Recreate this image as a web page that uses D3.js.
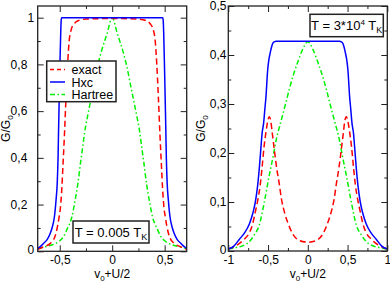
<!DOCTYPE html>
<html>
<head>
<meta charset="utf-8">
<script src="https://cdn.jsdelivr.net/npm/d3@7"></script>
<style>
  body { margin: 0; background: #fff; }
  svg { display: block; font-family: "Liberation Sans", Arial, sans-serif; }
  .axis path { display: none; }
  .axis line { stroke: #222; stroke-width: 1; }
  .axis text { font-size: 12px; fill: #000; }
</style>
</head>
<body>
<svg id="chart" width="390" height="284"></svg>
<script>
// ---- data: [v0+U/2, G/G0] ----

// left panel, T = 0.005 T_K
var leftExact = [[-0.71,0.008],[-0.65,0.02],[-0.59,0.034],[-0.55,0.058],[-0.536,0.077],[-0.52,0.11],
  [-0.505,0.15],[-0.495,0.18],[-0.48,0.27],[-0.47,0.36],[-0.455,0.5],[-0.44,0.66],[-0.425,0.8],
  [-0.41,0.9],[-0.39,0.95],[-0.36,0.975],[-0.32,0.988],[-0.25,0.994],[-0.1,0.996],[0,0.996],
  [0.1,0.996],[0.25,0.994],[0.32,0.988],[0.36,0.975],[0.39,0.95],[0.41,0.9],[0.425,0.8],
  [0.44,0.66],[0.455,0.5],[0.47,0.36],[0.48,0.27],[0.495,0.18],[0.505,0.15],[0.52,0.11],
  [0.536,0.077],[0.55,0.058],[0.59,0.034],[0.65,0.02],[0.71,0.008]];
var leftHxc = [[-0.71,0.013],[-0.68,0.022],[-0.654,0.034],[-0.62,0.05],[-0.59,0.077],[-0.57,0.105],
  [-0.55,0.15],[-0.535,0.22],[-0.524,0.29],[-0.516,0.4],[-0.511,0.52],[-0.505,0.65],[-0.498,0.8],
  [-0.491,0.93],[-0.486,0.99],[-0.482,1.0],[0.482,1.0],[0.486,0.99],[0.491,0.93],[0.498,0.8],
  [0.505,0.65],[0.511,0.52],[0.516,0.4],[0.524,0.29],[0.535,0.22],[0.55,0.15],[0.57,0.105],
  [0.59,0.077],[0.62,0.05],[0.654,0.034],[0.68,0.022],[0.71,0.013]];
var leftHartree = [[-0.71,0.012],[-0.65,0.018],[-0.6,0.024],[-0.536,0.034],[-0.5,0.045],[-0.464,0.063],
  [-0.43,0.095],[-0.384,0.148],[-0.355,0.215],[-0.327,0.29],[-0.3,0.385],[-0.28,0.45],[-0.264,0.505],
  [-0.225,0.6],[-0.18,0.7],[-0.14,0.79],[-0.1,0.86],[-0.05,0.93],[0,1.0],[0.05,0.93],[0.1,0.86],
  [0.14,0.79],[0.18,0.7],[0.225,0.6],[0.264,0.505],[0.28,0.45],[0.3,0.385],[0.327,0.29],
  [0.355,0.215],[0.384,0.148],[0.43,0.095],[0.464,0.063],[0.5,0.045],[0.536,0.034],[0.6,0.024],
  [0.65,0.018],[0.71,0.012]];

// right panel, T = 3*10^4 T_K
var rightExact = [[-1,0.004],[-0.9,0.011],[-0.8,0.024],[-0.736,0.037],[-0.694,0.055],[-0.66,0.08],
  [-0.63,0.103],[-0.6,0.133],[-0.576,0.169],[-0.55,0.213],[-0.526,0.243],[-0.505,0.264],
  [-0.485,0.274],[-0.465,0.265],[-0.45,0.245],[-0.42,0.205],[-0.39,0.168],[-0.36,0.138],
  [-0.33,0.105],[-0.29,0.077],[-0.25,0.057],[-0.19,0.035],[-0.1,0.021],[0,0.018],
  [0.1,0.021],[0.19,0.035],[0.25,0.057],[0.29,0.077],[0.33,0.105],[0.36,0.138],[0.39,0.168],
  [0.42,0.205],[0.45,0.245],[0.465,0.265],[0.485,0.274],[0.505,0.264],[0.526,0.243],
  [0.55,0.213],[0.576,0.169],[0.6,0.133],[0.63,0.103],[0.66,0.08],[0.694,0.055],[0.736,0.037],
  [0.8,0.024],[0.9,0.011],[1,0.004]];
var rightHxc = [[-1,0.004],[-0.93,0.01],[-0.86,0.024],[-0.8,0.036],[-0.735,0.055],[-0.69,0.078],
  [-0.66,0.1],[-0.63,0.135],[-0.61,0.169],[-0.59,0.21],[-0.575,0.24],[-0.555,0.262],[-0.54,0.29],
  [-0.526,0.315],[-0.505,0.369],[-0.49,0.39],[-0.475,0.403],[-0.455,0.417],[-0.44,0.424],
  [-0.42,0.427],[-0.4,0.428],[0.4,0.428],[0.42,0.427],[0.44,0.424],[0.455,0.417],[0.475,0.403],
  [0.49,0.39],[0.505,0.369],[0.526,0.315],[0.54,0.29],[0.555,0.262],[0.575,0.24],[0.59,0.21],
  [0.61,0.169],[0.63,0.135],[0.66,0.1],[0.69,0.078],[0.735,0.055],[0.8,0.036],[0.86,0.024],
  [0.93,0.01],[1,0.004]];
var rightHartree = [[-1,0.004],[-0.9,0.007],[-0.8,0.012],[-0.736,0.019],[-0.673,0.033],[-0.61,0.053],
  [-0.547,0.1],[-0.484,0.155],[-0.44,0.19],[-0.4,0.225],[-0.337,0.265],[-0.28,0.3],[-0.233,0.33],
  [-0.18,0.36],[-0.127,0.385],[-0.06,0.413],[0,0.427],[0.06,0.413],[0.127,0.385],[0.18,0.36],
  [0.233,0.33],[0.28,0.3],[0.337,0.265],[0.4,0.225],[0.44,0.19],[0.484,0.155],[0.547,0.1],
  [0.61,0.053],[0.673,0.033],[0.736,0.019],[0.8,0.012],[0.9,0.007],[1,0.004]];

var leftXTicks = [-0.5, 0, 0.5];
var leftXMinor = [-0.25, 0.25];
var leftYTicks = [0, 0.2, 0.4, 0.6, 0.8, 1];
var leftYMinor = [0.1, 0.3, 0.5, 0.7, 0.9];
var rightXTicks = [-1, -0.5, 0, 0.5, 1];
var rightXMinor = [-0.75, -0.25, 0.25, 0.75];
var rightYTicks = [0, 0.1, 0.2, 0.3, 0.4, 0.5];
var rightYMinor = [0.05, 0.15, 0.25, 0.35, 0.45];

var legendNames = ['exact', 'Hxc', 'Hartree'];

// ---- styles ----
var styles = {
  exact:   { color: '#ff0000', dash: '6,3.5' },
  Hxc:     { color: '#0000ff', dash: null },
  Hartree: { color: '#00f000', dash: '5,2.5,1.5,2.5' }
};

var svg = d3.select('#chart');

function commaFmt(d) {
  return String(+d.toFixed(2)).replace('.', ',');
}

function drawPanel(opt) {
  var x = d3.scaleLinear().domain(opt.xDomain).range([opt.left, opt.right]);
  var y = d3.scaleLinear().domain(opt.yDomain).range([opt.bottom, opt.top]);
  var g = svg.append('g');

  svg.append('clipPath').attr('id', opt.id + 'clip')
    .append('rect')
    .attr('x', opt.left).attr('y', opt.top)
    .attr('width', opt.right - opt.left).attr('height', opt.bottom - opt.top);

  // minor ticks
  g.append('g').attr('class', 'axis').attr('transform', 'translate(0,' + opt.bottom + ')')
    .call(d3.axisBottom(x).tickValues(opt.xMinor).tickSize(-3).tickFormat(''));
  g.append('g').attr('class', 'axis').attr('transform', 'translate(0,' + opt.top + ')')
    .call(d3.axisTop(x).tickValues(opt.xMinor).tickSize(-3).tickFormat(''));
  g.append('g').attr('class', 'axis').attr('transform', 'translate(' + opt.left + ',0)')
    .call(d3.axisLeft(y).tickValues(opt.yMinor).tickSize(-3).tickFormat(''));
  g.append('g').attr('class', 'axis').attr('transform', 'translate(' + opt.right + ',0)')
    .call(d3.axisRight(y).tickValues(opt.yMinor).tickSize(-3).tickFormat(''));

  // major ticks
  g.append('g').attr('class', 'axis').attr('transform', 'translate(0,' + opt.bottom + ')')
    .call(d3.axisBottom(x).tickValues(opt.xTicks).tickSize(-6).tickPadding(4).tickFormat(commaFmt));
  g.append('g').attr('class', 'axis').attr('transform', 'translate(0,' + opt.top + ')')
    .call(d3.axisTop(x).tickValues(opt.xTicks).tickSize(-6).tickFormat(''));
  var yAx = g.append('g').attr('class', 'axis').attr('transform', 'translate(' + opt.left + ',0)')
    .call(d3.axisLeft(y).tickValues(opt.yTicks).tickSize(-6).tickPadding(opt.yPad).tickFormat(commaFmt));
  if (opt.intPad != null) {
    yAx.selectAll('text').attr('x', function (d) { return Number.isInteger(d) ? -opt.intPad : -opt.yPad; });
  }
  // lift the bottom "0" a touch so it clears the x labels
  yAx.selectAll('text').filter(function (d) { return d === 0; }).attr('dy', '0.2em');
  g.append('g').attr('class', 'axis').attr('transform', 'translate(' + opt.right + ',0)')
    .call(d3.axisRight(y).tickValues(opt.yTicks).tickSize(-6).tickFormat(''));

  // curves
  var line = d3.line()
    .x(function (d) { return x(d[0]); })
    .y(function (d) { return y(d[1]); })
    .curve(d3.curveMonotoneX);

  var curves = g.append('g').attr('clip-path', 'url(#' + opt.id + 'clip)');
  opt.series.forEach(function (s) {
    var st = styles[s.name];
    curves.append('path')
      .datum(s.values)
      .attr('d', line)
      .attr('fill', 'none')
      .attr('stroke', st.color)
      .attr('stroke-width', 1.5)
      .attr('stroke-dasharray', st.dash);
  });

  // frame
  g.append('rect')
    .attr('x', opt.left).attr('y', opt.top)
    .attr('width', opt.right - opt.left).attr('height', opt.bottom - opt.top)
    .attr('fill', 'none').attr('stroke', '#222').attr('stroke-width', 1.3);

  // axis titles
  var xt = g.append('text')
    .attr('x', (opt.left + opt.right) / 2).attr('y', 278)
    .attr('text-anchor', 'middle').style('font-size', '12px');
  xt.append('tspan').text('v');
  xt.append('tspan').attr('dy', 3).style('font-size', '8px').text('0');
  xt.append('tspan').attr('dy', -3).text('+U/2');

  var yt = g.append('text')
    .attr('transform', 'translate(' + opt.yLabelX + ',' + ((opt.top + opt.bottom) / 2) + ') rotate(-90)')
    .attr('text-anchor', 'middle').style('font-size', '12px');
  yt.append('tspan').text('G/G');
  yt.append('tspan').attr('dy', 3).style('font-size', '8px').text('0');

  return { g: g, x: x, y: y };
}

var L = drawPanel({
  id: 'l', xDomain: [-0.71, 0.71], yDomain: [0, 1.05],
  left: 37.7, right: 186.7, top: 6, bottom: 251.3,
  xTicks: leftXTicks, xMinor: leftXMinor, yTicks: leftYTicks, yMinor: leftYMinor,
  yPad: 10.4, intPad: 3.6, yLabelX: 10,
  series: [
    { name: 'Hartree', values: leftHartree },
    { name: 'exact', values: leftExact },
    { name: 'Hxc', values: leftHxc }
  ]
});

var R = drawPanel({
  id: 'r', xDomain: [-1, 1], yDomain: [0, 0.5],
  left: 228.3, right: 387.3, top: 6, bottom: 251,
  xTicks: rightXTicks, xMinor: rightXMinor, yTicks: rightYTicks, yMinor: rightYMinor,
  yPad: 1.8, intPad: null, yLabelX: 205,
  series: [
    { name: 'Hartree', values: rightHartree },
    { name: 'exact', values: rightExact },
    { name: 'Hxc', values: rightHxc }
  ]
});

// legend (left panel)
var leg = svg.append('g');
leg.append('rect')
  .attr('x', 46.7).attr('y', 61).attr('width', 69.3).attr('height', 40.7)
  .attr('fill', '#fff').attr('stroke', '#222').attr('stroke-width', 1.5);
legendNames.forEach(function (n, i) {
  var yy = 69.5 + i * 12.5;
  leg.append('line')
    .attr('x1', 50).attr('x2', 65).attr('y1', yy).attr('y2', yy)
    .attr('stroke', styles[n].color).attr('stroke-width', 1.5)
    .attr('stroke-dasharray', n === 'exact' ? '4,3' : (n === 'Hartree' ? '5,2.5,1.5,2.5' : null));
  leg.append('text')
    .attr('x', 71.5).attr('y', yy + 4.5)
    .style('font-size', '12.5px').text(n);
});

// temperature boxes
function tempBox(x0, y0, w, h, build) {
  var b = svg.append('g');
  b.append('rect').attr('x', x0).attr('y', y0).attr('width', w).attr('height', h)
    .attr('fill', '#fff').attr('stroke', '#222').attr('stroke-width', 1.5);
  var t = b.append('text').attr('x', x0 + w / 2).attr('y', y0 + h / 2 + 4.5)
    .attr('text-anchor', 'middle').style('font-size', '13px');
  build(t);
}

tempBox(73, 221, 76, 22, function (t) {
  t.append('tspan').text('T = 0.005 T');
  t.append('tspan').attr('dy', 3).style('font-size', '9px').text('K');
});

tempBox(310, 14.3, 73.3, 22.4, function (t) {
  t.append('tspan').text('T = 3*10');
  t.append('tspan').attr('dy', -5).style('font-size', '8px').text('4');
  t.append('tspan').attr('dy', 5).text(' T');
  t.append('tspan').attr('dy', 3).style('font-size', '9px').text('K');
});
</script>
</body>
</html>
